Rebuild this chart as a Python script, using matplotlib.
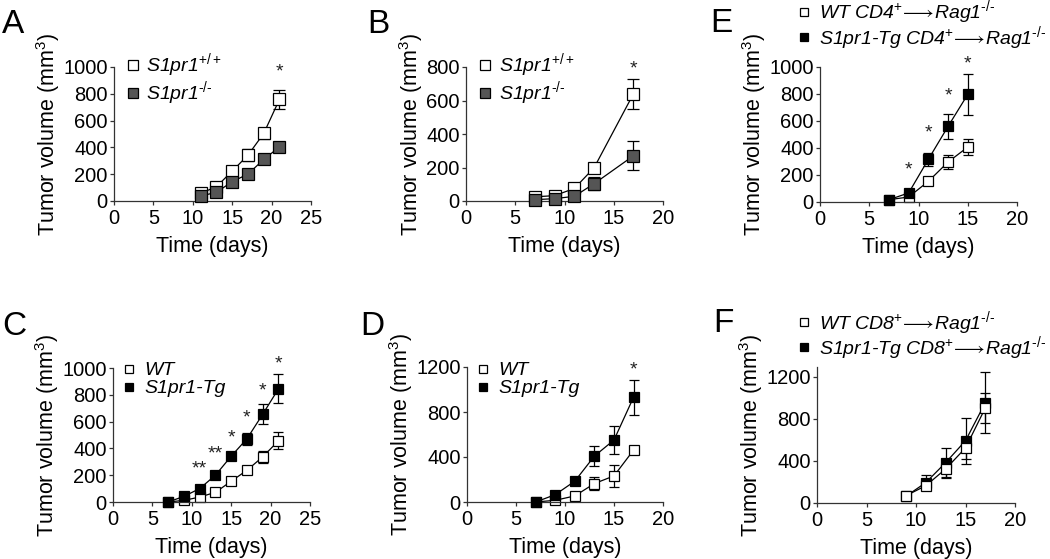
import matplotlib
matplotlib.use("Agg")
import matplotlib.pyplot as plt
from matplotlib.lines import Line2D

plt.rcParams['font.family'] = ['Liberation Sans', 'DejaVu Sans']
plt.rcParams['mathtext.fontset'] = 'custom'
plt.rcParams['mathtext.rm'] = 'Liberation Sans'
plt.rcParams['mathtext.it'] = 'Liberation Sans:italic'
plt.rcParams['mathtext.fallback'] = 'stixsans'
plt.rcParams['font.size'] = 14

# ---- data ----
days_A = [11, 13, 15, 17, 19, 21]
A_wt = [57, 107, 223, 342, 504, 759]
A_wt_err = [12, 15, 20, 45, 40, 70]
A_ko = [37, 65, 144, 201, 310, 404]
A_ko_err = [8, 10, 12, 12, 15, 15]
A_stars = [(21, 1010, '*')]

days_B = [7, 9, 11, 13, 17]
B_wt = [25, 32, 75, 198, 640]
B_wt_err = [8, 8, 12, 15, 90]
B_ko = [8, 14, 28, 103, 270]
B_ko_err = [5, 5, 8, 40, 87]
B_stars = [(17, 830, '*')]

days_C = [7, 9, 11, 13, 15, 17, 19, 21]
C_wt = [0, 12, 37, 72, 155, 237, 337, 457]
C_wt_err = [3, 5, 8, 10, 15, 20, 45, 65]
C_tg = [0, 42, 100, 200, 342, 472, 655, 845]
C_tg_err = [3, 8, 12, 15, 20, 45, 75, 108]
C_stars = [(11, 293, '**'), (13, 405, '**'), (15, 530, '*'),
           (17, 679, '*'), (19, 881, '*'), (21, 1082, '*')]

days_D = [7, 9, 11, 13, 15, 17]
D_wt = [0, 15, 54, 164, 232, 462]
D_wt_err = [3, 5, 10, 60, 100, 20]
D_tg = [0, 65, 185, 408, 551, 932]
D_tg_err = [3, 10, 15, 90, 125, 155]
D_stars = [(17, 1236, '*')]

days_E = [7, 9, 11, 13, 15]
E_wt = [17, 37, 153, 296, 407]
E_wt_err = [5, 8, 15, 50, 60]
E_tg = [17, 67, 316, 560, 797]
E_tg_err = [5, 12, 50, 95, 150]
E_stars = [(9, 284, '*'), (11, 560, '*'), (13, 832, '*'), (15, 1069, '*')]

days_F = [9, 11, 13, 15, 17]
F_wt = [70, 165, 325, 524, 905]
F_wt_err = [10, 40, 90, 105, 145]
F_tg = [65, 195, 385, 593, 955]
F_tg_err = [10, 70, 140, 220, 290]
F_stars = []

SUP_KO = '$^{\\mathit{\u2010/\u2010}}$'
ARROW = '$\\!\\longrightarrow\\!$'
lab_ko = ['S1pr1$^{\\mathit{+/+}}$', 'S1pr1' + SUP_KO]
lab_tg = ['WT', 'S1pr1-Tg']
lab_cd4 = ['WT CD4$^{\\mathit{+}}$' + ARROW + 'Rag1' + SUP_KO,
           'S1pr1-Tg CD4$^{\\mathit{+}}$' + ARROW + 'Rag1' + SUP_KO]
lab_cd8 = ['WT CD8$^{\\mathit{+}}$' + ARROW + 'Rag1' + SUP_KO,
           'S1pr1-Tg CD8$^{\\mathit{+}}$' + ARROW + 'Rag1' + SUP_KO]

W, H = 1050, 559
fig = plt.figure(figsize=(W / 100, H / 100), dpi=100)


def fx(x):
    return x / W


def fy(y):
    return 1 - y / H


GRAY = '#555555'
TICK_FS = 14.5
LABEL_FS = 15.5
LEG_FS = 14

panels = [
    dict(letter='A', lpos=(2, 33), rect=(114, 67, 311, 201), xmax=25, ymax=1000, ystep=200,
         x=days_A, s1=(A_wt, A_wt_err), s2=(A_ko, A_ko_err), c2=GRAY, stars=A_stars,
         labels=lab_ko, leg=(133, 79.5, 147), lsp=0.0, ms=8, lms=7.5, cap=4.5, wt_top=False),
    dict(letter='B', lpos=(367, 33), rect=(466, 67, 663, 201), xmax=20, ymax=800, ystep=200,
         x=days_B, s1=(B_wt, B_wt_err), s2=(B_ko, B_ko_err), c2=GRAY, stars=B_stars,
         labels=lab_ko, leg=(485, 79.5, 500), lsp=0.0, ms=8, lms=7.5, cap=4.5, wt_top=False),
    dict(letter='E', lpos=(710, 32), rect=(820, 67, 1017, 202), xmax=20, ymax=1000, ystep=200,
         x=days_E, s1=(E_wt, E_wt_err), s2=(E_tg, E_tg_err), c2='black', stars=E_stars,
         labels=lab_cd4, leg=(804, 25, 820), lsp=-0.13, ms=7.5, lms=6, cap=3.3, wt_top=False),
    dict(letter='C', lpos=(2, 335), rect=(113, 368, 310, 502), xmax=25, ymax=1000, ystep=200,
         x=days_C, s1=(C_wt, C_wt_err), s2=(C_tg, C_tg_err), c2='black', stars=C_stars,
         labels=lab_tg, leg=(129, 379.5, 145), lsp=0.02, ms=7.5, lms=6, cap=3.3, wt_top=False),
    dict(letter='D', lpos=(360, 335), rect=(467, 367, 663, 502), xmax=20, ymax=1200, ystep=400,
         x=days_D, s1=(D_wt, D_wt_err), s2=(D_tg, D_tg_err), c2='black', stars=D_stars,
         labels=lab_tg, leg=(483, 379.5, 499), lsp=0.02, ms=7.5, lms=6, cap=3.3, wt_top=False),
    dict(letter='F', lpos=(713, 332), rect=(817, 367, 1015, 503), xmax=20, ymax=1295, ystep=400,
         x=days_F, s1=(F_wt, F_wt_err), s2=(F_tg, F_tg_err), c2='black', stars=F_stars,
         labels=lab_cd8, leg=(804, 335.5, 820), lsp=-0.13, ms=7.5, lms=6, cap=3.3, wt_top=True),
]

for p in panels:
    l, t, r, b = p['rect']
    ax = fig.add_axes([fx(l), fy(b), (r - l) / W, (b - t) / H])
    for side in ['top', 'right']:
        ax.spines[side].set_visible(False)
    for side in ['left', 'bottom']:
        ax.spines[side].set_linewidth(0.9)
        ax.spines[side].set_color('#333333')
    ax.set_xlim(0, p['xmax'])
    ax.set_ylim(0, p['ymax'])
    ax.set_xticks(range(0, p['xmax'] + 1, 5))
    ax.set_yticks(range(0, int(p['ymax']) + 1, p['ystep']))
    ax.tick_params(direction='out', length=3, width=0.9, color='#333333',
                   labelsize=TICK_FS, pad=1.5)
    ax.tick_params(axis='x', pad=2.5)

    series = [(p['s1'], 'white', 2), (p['s2'], p['c2'], 3)]
    if p['wt_top']:
        series = [(p['s1'], 'white', 3), (p['s2'], p['c2'], 2)]
    for (vals, errs), fc, z in series:
        ax.errorbar(p['x'], vals, yerr=errs, color='black', lw=0.9, elinewidth=0.9,
                    capsize=p['cap'], capthick=0.9, marker='s', ms=p['ms'],
                    mfc=fc, mec='black', mew=0.9, clip_on=False, zorder=z)

    for sx, sy, st in p['stars']:
        ax.annotate(st, (sx, sy), xytext=(0, -8), textcoords='offset points',
                    ha='center', va='baseline', fontsize=14, color='#222222',
                    annotation_clip=False)

    ax.set_xlabel('Time (days)', fontsize=LABEL_FS, labelpad=6)
    ax.set_ylabel('Tumor volume (mm$^3$)', fontsize=LABEL_FS, labelpad=1)

    handles = [Line2D([], [], ls='none', marker='s', ms=p['lms'], mfc='white',
                      mec='black', mew=0.9),
               Line2D([], [], ls='none', marker='s', ms=p['lms'], mfc=p['c2'],
                      mec='black', mew=0.9)]
    mx, my, tx = p['leg']
    fs_px = LEG_FS * 100 / 72
    hl = 0.8
    left = mx - hl * fs_px / 2
    pad = (tx - (left + hl * fs_px)) / fs_px - 0.05
    ax.legend(handles, p['labels'], loc='center left',
              bbox_to_anchor=(fx(left), fy(my)), bbox_transform=fig.transFigure,
              frameon=False, borderpad=0, borderaxespad=0, handlelength=hl,
              handletextpad=pad, labelspacing=p['lsp'],
              prop={'style': 'italic', 'size': LEG_FS})

    fig.text(fx(p['lpos'][0]), fy(p['lpos'][1]), p['letter'], fontsize=24,
             ha='left', va='baseline')

fig.savefig('out.png', dpi=100)
